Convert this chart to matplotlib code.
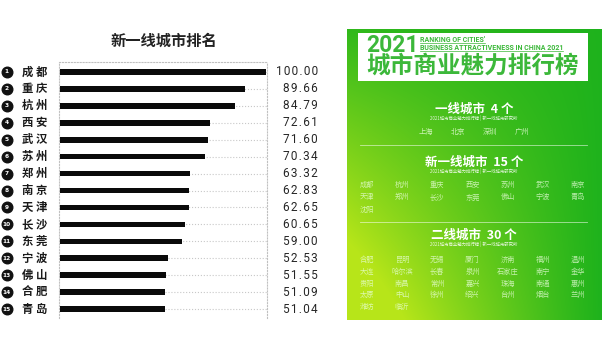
import numpy as np
import matplotlib.pyplot as plt
import matplotlib.transforms as mtransforms
from matplotlib.patches import Rectangle

plt.rcParams['font.family'] = ['Noto Sans CJK SC', 'DejaVu Sans']

# new first-tier ranking (left chart)
cities = ['成都', '重庆', '杭州', '西安', '武汉', '苏州', '郑州', '南京',
          '天津', '长沙', '东莞', '宁波', '佛山', '合肥', '青岛']
scores = [100.00, 89.66, 84.79, 72.61, 71.60, 70.34, 63.32, 62.83,
          62.65, 60.65, 59.00, 52.53, 51.55, 51.09, 51.04]

# poster lists (right panel)
tier1 = ['上海', '北京', '深圳', '广州']
new_tier1 = ['成都', '杭州', '重庆', '西安', '苏州', '武汉', '南京',
             '天津', '郑州', '长沙', '东莞', '佛山', '宁波', '青岛', '沈阳']
tier2 = ['合肥', '昆明', '无锡', '厦门', '济南', '福州', '温州',
         '大连', '哈尔滨', '长春', '泉州', '石家庄', '南宁', '金华',
         '贵阳', '南昌', '常州', '嘉兴', '珠海', '南通', '惠州',
         '太原', '中山', '徐州', '绍兴', '台州', '烟台', '兰州',
         '潍坊', '临沂']
poster_sub = '2021城市商业魅力排行榜 | 新一线城市研究所'

W, H = 616, 339
fig = plt.figure(figsize=(W / 100, H / 100), dpi=100, facecolor='white')

# ---------------- left: bar chart ----------------
ax = fig.add_axes([59 / W, 1 - 318 / H, 208 / W, 256 / H])
ypos = np.arange(len(cities))
ax.barh(ypos, scores, height=0.33, color='#0a0a0a', zorder=3)
ax.set_xlim(-0.4, 100.4)
ax.set_ylim(14.53, -0.59)
ax.set_yticks(ypos)
ax.set_yticklabels([])
ax.tick_params(length=0, labelbottom=False)
ax.set_xticks([])
ax.grid(axis='y', color='#c8c8c8', linestyle=':', linewidth=0.8, zorder=0)
for side in ['left', 'right', 'top']:
    ax.spines[side].set_linestyle(':')
    ax.spines[side].set_color('#c0c0c0')
    ax.spines[side].set_linewidth(0.8)
ax.spines['bottom'].set_visible(False)

blend = mtransforms.blended_transform_factory(ax.transAxes, ax.transData)
ax.scatter(np.full(len(cities), -0.252), ypos, s=58, color='#111111',
           transform=blend, clip_on=False, zorder=4)
for i, (c, v) in enumerate(zip(cities, scores)):
    ax.text(-0.252, i, str(i + 1), transform=blend, ha='center', va='center',
            fontsize=4.2, color='white', fontweight='bold',
            family='DejaVu Sans', zorder=5)
    ax.text(-0.178, i, ' '.join(c), transform=blend, ha='left', va='center',
            fontsize=8.2, fontweight='bold', color='#1a1a1a')
    ax.text(1.245, i, '\u200a'.join(f'{v:.2f}'), transform=blend, ha='right',
            va='center', fontsize=8.5, color='#262626',
            family=['Roboto', 'DejaVu Sans'])

fig.text(164 / W, 1 - 41 / H, '新一线城市排名', ha='center', va='center',
         fontsize=11, fontweight='bold', color='#222222')

# ---------------- right: poster ----------------
PW, PH = 255, 291
axp = fig.add_axes([347 / W, 1 - 320 / H, PW / W, PH / H])
axp.set_xlim(0, PW)
axp.set_ylim(PH, 0)
axp.axis('off')

u, v = np.meshgrid(np.linspace(0, 1, 200), np.linspace(0, 1, 200))
t = np.clip((1 - u) ** 1.1 * (v + 0.1) * 1.2, 0, 1)[..., None]
green = np.array([0.12, 0.70, 0.11])
yellow = np.array([0.72, 0.90, 0.10])
axp.imshow(green * (1 - t) + yellow * t, extent=[0, PW, PH, 0],
           aspect='auto', interpolation='bilinear')

axp.add_patch(Rectangle((11, 4), 230, 48, facecolor='white', edgecolor='none'))
g = '#3cb83a'
axp.text(19, 16.5, '2021', ha='left', va='center', fontsize=16.5,
         fontweight='bold', color=g, family=['Roboto', 'DejaVu Sans'])
t1 = axp.text(73, 11, "RANKING OF CITIES'", ha='left', va='center', fontsize=5,
              fontweight='bold', color=g, family=['Roboto', 'DejaVu Sans'])
t2 = axp.text(73, 19, 'BUSINESS ATTRACTIVENESS IN CHINA 2021', ha='left',
              va='center', fontsize=5, fontweight='bold', color=g,
              family=['Roboto', 'DejaVu Sans'])
axp.text(126, 38, '城市商业魅力排行榜', ha='center', va='center', fontsize=17,
         fontweight='bold', color=g)

fig.canvas.draw()
inv = axp.transData.inverted()
for tx, yy in [(t1, 14.2), (t2, 22.2)]:
    bb = tx.get_window_extent()
    x0 = inv.transform((bb.x0, 0))[0]
    x1 = inv.transform((bb.x1, 0))[0]
    axp.plot([x0, x1], [yy, yy], color=g, lw=0.5)

txt = '#eaffdc'
def header(y, label, n):
    axp.text(127, y, f'{label}  {n} 个', ha='center', va='center', fontsize=9,
             fontweight='bold', color='white')
    axp.text(127, y + 9, poster_sub, ha='center', va='center', fontsize=3.2,
             color='white', alpha=0.85)

header(80, '一线城市', len(tier1))
for i, c in enumerate(tier1):
    axp.text(127 + (i - 1.5) * 32, 103, c, ha='center', va='center',
             fontsize=5.2, color=txt, alpha=0.8)
axp.plot([13, 240], [116, 116], color='white', lw=0.6, alpha=0.6)

cols = 125.5 + (np.arange(7) - 3) * 35.2
header(133, '新一线城市', len(new_tier1))
for i, c in enumerate(new_tier1):
    axp.text(cols[i % 7], 156 + (i // 7) * 12.4, c, ha='center', va='center',
             fontsize=5.2, color=txt, alpha=0.75)
axp.plot([13, 240], [193, 193], color='white', lw=0.6, alpha=0.6)

header(206, '二线城市', len(tier2))
for i, c in enumerate(tier2):
    axp.text(cols[i % 7], 231 + (i // 7) * 11.8, c, ha='center', va='center',
             fontsize=5.2, color=txt, alpha=0.75)

fig.savefig('out.png', dpi=100, facecolor='white')
